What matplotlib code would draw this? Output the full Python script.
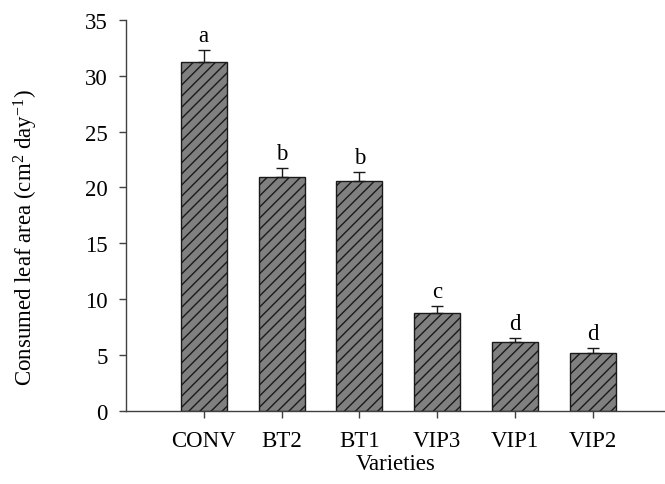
import numpy as np
import matplotlib
matplotlib.use("Agg")
import matplotlib.pyplot as plt

plt.rcParams['font.family'] = ['Liberation Serif', 'DejaVu Serif']
plt.rcParams['mathtext.fontset'] = 'custom'
plt.rcParams['mathtext.rm'] = 'Liberation Serif'
plt.rcParams['mathtext.it'] = 'Liberation Serif:italic'
plt.rcParams['hatch.color'] = '#1a1a1a'
plt.rcParams['hatch.linewidth'] = 1.0

# data
varieties = ["CONV", "BT2", "BT1", "VIP3", "VIP1", "VIP2"]
consumed = [31.2, 20.9, 20.6, 8.8, 6.2, 5.2]
errors = [1.1, 0.8, 0.8, 0.6, 0.35, 0.4]
letters = ["a", "b", "b", "c", "d", "d"]

fs = 16.5

fig = plt.figure(figsize=(6.65, 4.85), dpi=100)
ax = fig.add_axes([0.1895, 0.1505, 0.8105, 0.8065])

x = np.arange(len(varieties))
ax.bar(x, consumed, width=0.59, color='#808080', edgecolor='#1a1a1a',
       linewidth=1.0, hatch='///', zorder=2)
ax.errorbar(x, consumed, yerr=[np.zeros(len(errors)), errors], fmt='none',
            ecolor='#1a1a1a', elinewidth=1.0, capsize=4.3, capthick=1.0, zorder=3)

for xi, v, e, lab in zip(x, consumed, errors, letters):
    ax.annotate(lab, (xi, v + e), xytext=(0, 3), textcoords='offset points',
                ha='center', va='bottom', fontsize=fs)

ax.set_xlim(-1.0, 5.93)
ax.set_ylim(0, 35)
ax.set_yticks(np.arange(0, 36, 5))
ax.set_xticks(x)
ax.set_xticklabels(varieties)

for s in ['top', 'right']:
    ax.spines[s].set_visible(False)
for s in ['left', 'bottom']:
    ax.spines[s].set_color('#404040')
    ax.spines[s].set_linewidth(1.0)

ax.tick_params(axis='y', direction='out', length=5, width=1.0,
               color='#404040', labelsize=fs, pad=8)
ax.tick_params(axis='x', direction='out', length=5, width=1.0,
               color='#404040', labelsize=fs, pad=9)
ax.set_xlabel("Varieties", fontsize=fs, labelpad=1)
ax.set_ylabel("Consumed leaf area (cm$^{2}$ day$^{-1}$)", fontsize=fs)
ax.yaxis.set_label_coords(-0.16, 0.446)

fig.savefig("out.png", dpi=100)
